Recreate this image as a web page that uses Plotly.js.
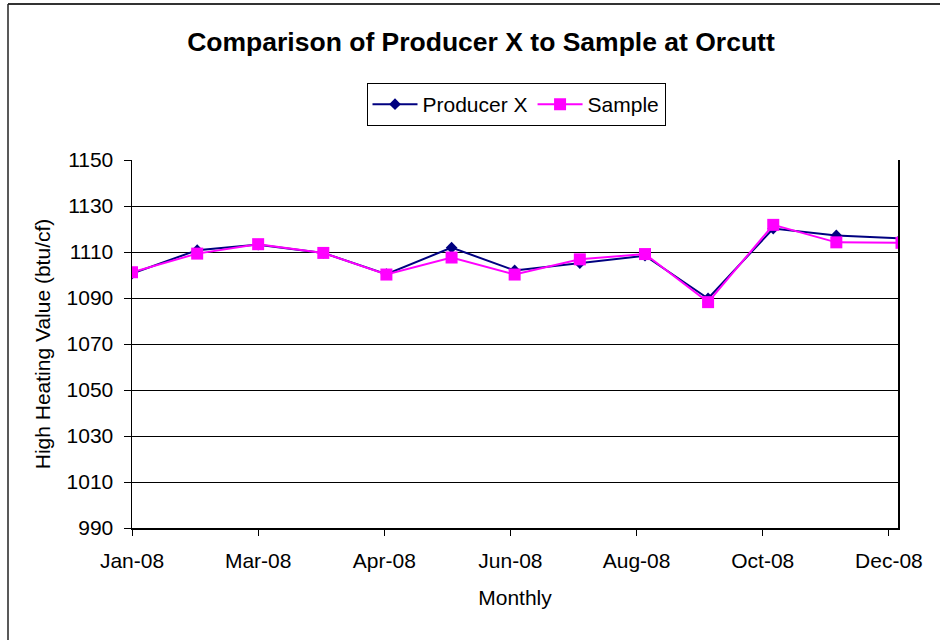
<!DOCTYPE html>
<html>
<head>
<meta charset="utf-8">
<script src="https://cdn.plot.ly/plotly-3.0.1.min.js"></script>
<style>
  html, body { margin: 0; padding: 0; background: #ffffff; }
  #chart { width: 940px; height: 640px; }
</style>
</head>
<body>
<div id="chart"></div>
<script>
// Sample dates (monthly); the last one lies just past the visible axis end
const dates = ['2008-01-01','2008-02-01','2008-03-01','2008-04-01','2008-05-01','2008-06-01',
               '2008-07-01','2008-08-01','2008-09-01','2008-10-01','2008-11-01','2008-12-01','2009-01-01'];
const producerX = [1100.6, 1110.8, 1113.2, 1109.6, 1100.4, 1111.9, 1102.0, 1105.2, 1108.4, 1089.8, 1120.2, 1117.2, 1115.9];
const sample    = [1101.2, 1109.3, 1113.4, 1109.6, 1100.2, 1107.6, 1100.2, 1106.8, 1109.1, 1088.2, 1121.8, 1114.2, 1114.0];

const seriesNames = ['Producer X', 'Sample'];
const titleText = 'Comparison of Producer X to Sample at Orcutt';
const xTitle = 'Monthly';
const yTitle = 'High Heating Value (btu/cf)';

const FONT = '"Liberation Sans", Arial, Helvetica, sans-serif';

const traces = [
  {
    x: dates, y: producerX, name: seriesNames[0], type: 'scatter', mode: 'lines+markers',
    line: { color: '#000080', width: 2 },
    marker: { symbol: 'diamond', size: 9, color: '#000080' }
  },
  {
    x: dates, y: sample, name: seriesNames[1], type: 'scatter', mode: 'lines+markers',
    line: { color: '#FF00FF', width: 2 },
    marker: { symbol: 'square', size: 12, color: '#FF00FF' }
  }
];

// plot area: left 132, right 898, top 160, bottom 528
const L = 132, R = 898, T = 160, B = 528;
const px = v => (v - L) / (R - L);
const py = v => (B - v) / (B - T);

const layout = {
  width: 940, height: 640,
  margin: { l: L, r: 940 - R, t: T, b: 640 - B, pad: 0 },
  paper_bgcolor: '#ffffff', plot_bgcolor: '#ffffff',
  font: { family: FONT, size: 21, color: '#000000' },
  title: {
    text: titleText,
    font: { family: FONT, size: 26.5, weight: 'bold', color: '#000000' },
    x: px(481), xanchor: 'center', xref: 'paper',
    y: 1 - 42 / 640, yanchor: 'middle', yref: 'container'
  },
  showlegend: true,
  legend: {
    orientation: 'h',
    x: px(516), xanchor: 'center',
    y: py(83), yanchor: 'top',
    bordercolor: '#000000', borderwidth: 1,
    bgcolor: '#ffffff',
    itemwidth: 45,
    font: { family: FONT, size: 21, color: '#000000' },
    itemclick: false
  },
  xaxis: {
    type: 'date',
    range: ['2008-01-01', '2008-12-30 08:00'],
    tick0: '2008-01-01',
    dtick: 60 * 86400000,
    tickformat: '%b-%y',
    ticks: 'outside', ticklen: 6, tickcolor: '#000000', tickwidth: 1,
    ticklabelstandoff: 7,
    showgrid: false, zeroline: false,
    showline: true, linecolor: '#000000', linewidth: 2,
    tickfont: { family: FONT, size: 21, color: '#000000' },
    title: { text: xTitle, font: { family: FONT, size: 21, color: '#000000' }, standoff: 19 }
  },
  yaxis: {
    range: [990, 1150],
    tick0: 990, dtick: 20,
    ticks: 'outside', ticklen: 7, tickcolor: '#000000', tickwidth: 1,
    ticklabelstandoff: 6,
    showgrid: true, gridcolor: '#000000', gridwidth: 1,
    zeroline: false,
    showline: true, linecolor: '#000000', linewidth: 1.5, mirror: true,
    tickfont: { family: FONT, size: 21, color: '#000000' },
    title: { text: yTitle, font: { family: FONT, size: 21, color: '#000000' }, standoff: 10 }
  },
  shapes: [
    { type: 'line', xref: 'paper', yref: 'paper', x0: px(8), x1: px(940), y0: py(4), y1: py(4),
      line: { color: '#333333', width: 2 } },
    { type: 'line', xref: 'paper', yref: 'paper', x0: px(8), x1: px(8), y0: py(4), y1: py(640),
      line: { color: '#222222', width: 1.5 } }
  ]
};

Plotly.newPlot('chart', traces, layout, { displayModeBar: false, staticPlot: true });
</script>
</body>
</html>
